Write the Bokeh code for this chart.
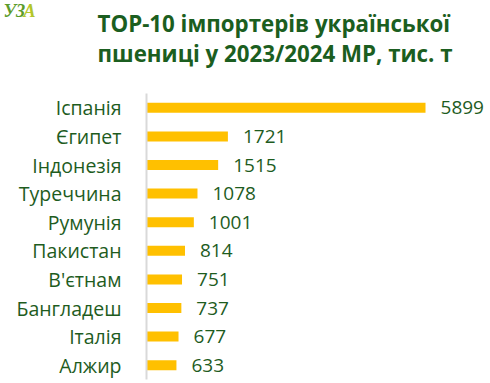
from bokeh.plotting import figure
from bokeh.models import ColumnDataSource, Range1d, FactorRange
from bokeh.layouts import column
from bokeh.core.properties import value
from bokeh.embed import file_html
from bokeh.resources import INLINE

countries = ["Іспанія", "Єгипет", "Індонезія", "Туреччина", "Румунія",
             "Пакистан", "В'єтнам", "Бангладеш", "Італія", "Алжир"]
volumes = [5899, 1721, 1515, 1078, 1001, 814, 751, 737, 677, 633]
title_lines = ["ТОР-10 імпортерів української", "пшениці у 2023/2024 МР, тис. т"]
logo_parts = ["УЗ", "А"]

GREEN = "#1e5c1e"
TITLE_GREEN = "#1b5e20"
BAR = "#FFC000"
FONT = "Open Sans"
W = 490

# ---- header: title and logo (pixel-like coordinates, y downwards) ----
head = figure(width=W, height=93, output_backend="svg", toolbar_location=None,
              x_range=Range1d(0, W), y_range=Range1d(93, 0),
              min_border=0)
head.axis.visible = False
head.grid.visible = False
head.outline_line_color = None
head.border_fill_color = "white"
head.background_fill_color = "white"

head.text(x=[97, 97], y=[23, 53], text=title_lines, text_font=value(FONT),
          text_font_size="22.3px", text_font_style="bold",
          text_color=TITLE_GREEN, text_baseline="alphabetic")
head.text(x=[3, 23], y=[10, 10], text=logo_parts,
          text_font=value("Liberation Serif"), text_font_size="18px",
          text_font_style="bold italic", text_color=["#5c9c2c", "#b3c62a"],
          text_baseline="alphabetic")

# ---- main bar chart ----
src = ColumnDataSource(dict(country=countries, volume=volumes,
                            label=[str(v) for v in volumes]))

p = figure(width=W, height=290, output_backend="svg", toolbar_location=None,
           y_range=FactorRange(factors=list(reversed(countries))),
           x_range=Range1d(0, 7273),
           min_border_left=146, min_border_top=0, min_border_bottom=4,
           min_border_right=0)
p.outline_line_color = None
p.background_fill_color = "white"
p.border_fill_color = "white"
p.grid.visible = False
p.xaxis.visible = False

ya = p.yaxis[0]
ya.axis_line_color = "#d9d9d9"
ya.axis_line_width = 2
ya.major_tick_line_color = None
ya.minor_tick_line_color = None
ya.major_label_standoff = 19
ya.major_label_text_font = FONT
ya.major_label_text_font_size = "19.5px"
ya.major_label_text_color = GREEN

p.hbar(y="country", right="volume", left=0, height=0.35, source=src,
       fill_color=BAR, line_color=None)
p.text(x="volume", y="country", text="label", source=src, x_offset=15,
       text_align="left", text_baseline="middle", text_font=value(FONT),
       text_font_size="19px", text_color=GREEN)

# keep each figure's own frame (no frame alignment across the column)
for fig in (head, p):
    try:
        fig.frame_align = False
    except Exception:
        pass

layout = column(head, p, spacing=0)
open("out.html", "w").write(file_html(layout, INLINE))
